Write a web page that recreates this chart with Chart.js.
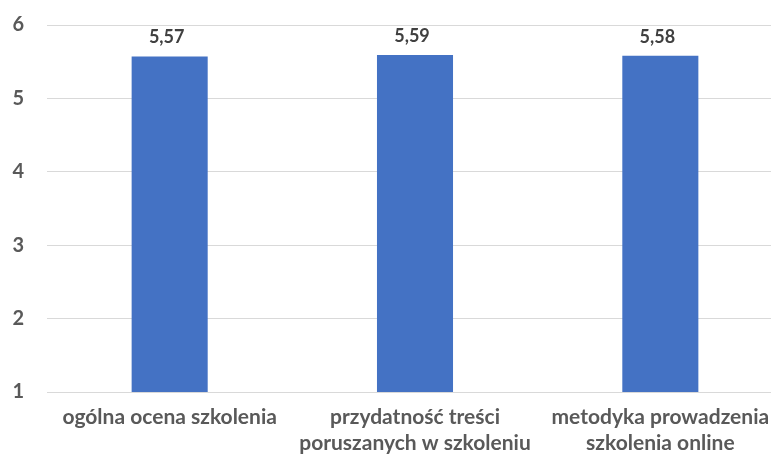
<!DOCTYPE html>
<html>
<head>
<meta charset="utf-8">
<script src="https://cdn.jsdelivr.net/npm/chart.js@4"></script>
<style>
  html, body { margin: 0; padding: 0; background: #fff; overflow: hidden; }
  #wrap { width: 783px; height: 457px; }
</style>
</head>
<body>
<div id="wrap"><canvas id="chart"></canvas></div>
<script>
// chart data
const categories = [
    ["ogólna ocena szkolenia"],
    ["przydatność treści", "poruszanych w szkoleniu"],
    ["metodyka prowadzenia", "szkolenia online"]
];
const scores = [5.57, 5.59, 5.58];
const yTicks = [1, 2, 3, 4, 5, 6];

const textGray = '#595959';

// draws the value above each bar, Polish decimal comma
const valueLabels = {
    id: 'valueLabels',
    afterDatasetsDraw(chart) {
        const ctx = chart.ctx;
        const meta = chart.getDatasetMeta(0);
        ctx.save();
        ctx.font = 'bold 18px Lato';
        ctx.fillStyle = '#404040';
        ctx.textAlign = 'center';
        ctx.textBaseline = 'bottom';
        meta.data.forEach((bar, i) => {
            ctx.fillText(scores[i].toFixed(2).replace('.', ','), bar.x - 3, bar.y - 10);
        });
        ctx.restore();
    }
};

new Chart(document.getElementById('chart'), {
    type: 'bar',
    data: {
        labels: categories,
        datasets: [{
            data: scores,
            backgroundColor: '#4472C4',
            barPercentage: 0.31,
            categoryPercentage: 1
        }]
    },
    options: {
        responsive: true,
        maintainAspectRatio: false,
        animation: false,
        layout: { padding: { top: 25, left: 0, right: 0, bottom: 0 } },
        plugins: {
            legend: { display: false },
            tooltip: { enabled: false }
        },
        scales: {
            x: {
                afterFit(axis) {
                    axis.height = 65;
                },
                grid: { display: false },
                border: { display: false },
                ticks: {
                    color: textGray,
                    font: { family: 'Lato', size: 21, weight: 'bold', lineHeight: 1.2 },
                    padding: 5,
                    maxRotation: 0
                }
            },
            y: {
                min: 1,
                max: 6,
                afterBuildTicks(axis) {
                    axis.ticks = yTicks.map(v => ({ value: v }));
                },
                afterFit(axis) {
                    axis.width = 47;
                    axis.paddingTop = 0;
                    axis.paddingBottom = 0;
                },
                grid: { color: '#d9d9d9', drawTicks: false },
                border: { display: false },
                ticks: {
                    color: textGray,
                    font: { family: 'Lato', size: 20, weight: 'bold' },
                    padding: 23
                }
            }
        }
    },
    plugins: [valueLabels]
});
</script>
</body>
</html>
